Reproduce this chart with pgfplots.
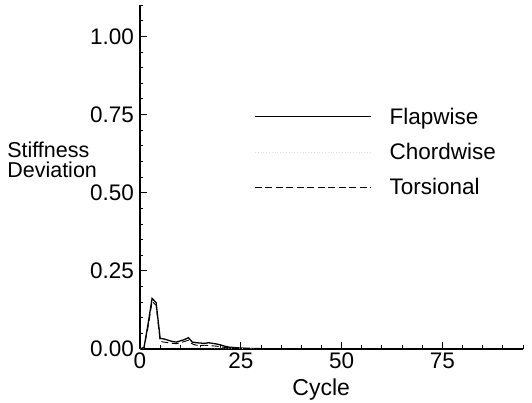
\documentclass[border=0pt]{standalone}
\usepackage{fontspec}
\setmainfont{Liberation Sans}
\usepackage{pgfplots}
\pgfplotsset{compat=1.18}
\begin{document}
\begin{tikzpicture}
\begin{axis}[
  scale only axis,
  width=383pt, height=344pt,
  at={(0,0)}, anchor=south west,
  xmin=0, xmax=95, ymin=0, ymax=1.1,
  axis x line*=bottom, axis y line*=left,
  axis line style={line width=2pt},
  xtick={0,25,50,75},
  ytick={0,0.25,0.5,0.75,1},
  minor xtick={5,10,15,20,30,35,40,45,55,60,65,70,80,85,90,95},
  minor ytick={0.05,0.1,0.15,0.2,0.3,0.35,0.4,0.45,0.55,0.6,0.65,0.7,0.8,0.85,0.9,0.95,1.05,1.1},
  tick align=inside,
  major tick length=7pt, minor tick length=3.5pt,
  tick style={line width=1.2pt, black},
  minor tick style={line width=0.8pt},
  /pgf/number format/assume math mode=true,
  yticklabel style={/pgf/number format/fixed, /pgf/number format/fixed zerofill, /pgf/number format/precision=2, font=\fontsize{22.5}{24}\selectfont, inner sep=2pt, xshift=-4pt},
  xticklabel style={font=\fontsize{22.5}{24}\selectfont, inner sep=1pt, yshift=-3pt},
  scaled y ticks=false,
  xlabel={Cycle},
  xlabel style={at={(rel axis cs:0.473,-0.118)}, anchor=center, font=\fontsize{23}{24}\selectfont},
  ylabel={Stiffness\\Deviation},
  ylabel style={rotate=-90, align=left, at={(rel axis cs:-0.347,0.549)}, anchor=west, inner sep=0pt, font=\fontsize{21.5}{20}\selectfont},
  legend image code/.code={\draw[#1] (0pt,0pt) -- (116pt,0pt);},
  legend style={draw=none, fill=none, at={(rel axis cs:0.29,0.713)}, anchor=north west,
    font=\fontsize{22.5}{24}\selectfont, row sep=13.5pt, column sep=16pt, nodes={inner sep=2pt, anchor=west}},
  legend cell align=left,
  clip=false,
]
\addplot[black, line width=1.3pt] coordinates {
(0,0.0)(1,0.005)(2,0.08)(3,0.162)(4,0.148)(5,0.034)(6,0.032)(7,0.028)(8,0.024)(9,0.022)(10,0.026)(11,0.030)(12,0.036)(13,0.022)(14,0.020)(15,0.019)(16,0.018)(17,0.020)(18,0.018)(19,0.016)(20,0.013)(21,0.009)(22,0.006)(23,0.005)(24,0.004)(25,0.003)(27,0.002)(30,0.001)
};
\addlegendentry{Flapwise}
\addplot[gray!25, dotted, line width=0.8pt] coordinates {
(0,0.0)(1,0.002)(2,0.01)(3,0.015)(4,0.012)(5,0.008)(8,0.006)(12,0.005)(16,0.004)(20,0.003)(25,0.002)(30,0.001)
};
\addlegendentry{Chordwise}
\addplot[black, dash pattern=on 7pt off 3.5pt, line width=0.9pt] coordinates {
(0,0.0)(1,0.004)(2,0.07)(3,0.152)(4,0.14)(5,0.024)(6,0.022)(7,0.02)(8,0.018)(9,0.017)(10,0.020)(11,0.024)(12,0.028)(13,0.016)(14,0.012)(15,0.011)(16,0.012)(17,0.011)(18,0.010)(19,0.009)(20,0.007)(21,0.005)(22,0.004)(23,0.003)(25,0.002)(30,0.001)
};
\addlegendentry{Torsional}
\end{axis}
\pgfresetboundingbox
\useasboundingbox (-140pt,-54pt) rectangle (392pt,349pt);
\end{tikzpicture}
\end{document}
